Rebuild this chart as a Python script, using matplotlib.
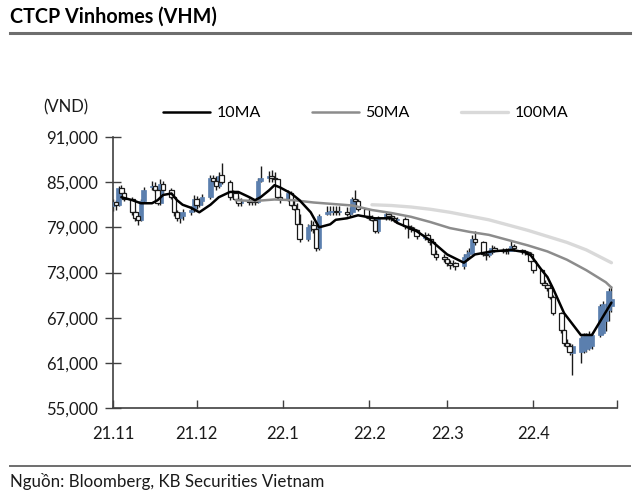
import matplotlib
matplotlib.use("Agg")
import matplotlib.pyplot as plt
import matplotlib.dates as mdates
from matplotlib.lines import Line2D
from matplotlib.ticker import FuncFormatter
import numpy as np
import pandas as pd

plt.rcParams['font.family'] = ['Lato', 'DejaVu Sans']

# ---------------- data ----------------
start, end = "2021-11-01", "2022-04-29"

opens = [
    # Nov 2021
    81800, 82300, 82000, 84200, 83500, 82700, 81000, 80500, 80000, 82500, 84300,
    84500, 84000, 82200, 84800, 84000, 83000, 81000, 80200, 80500, 81000, 81300,
    # Dec 2021
    82800, 82000, 82500, 83000, 85500, 85200, 84500, 86000, 85000, 83000, 83500, 82800,
    82200, 82500, 82300, 82500, 82300, 85200, 85500, 85800, 85600, 85400, 83000,
    # Jan 2022
    82700, 83500, 82000, 81500, 79500, 77500, 79000, 79300, 78800, 76200, 80800,
    81000, 81000, 81100, 81000, 81000, 80800, 81000, 82800, 82500, 81500,
    # Feb 2022
    80500, 80300, 80000, 78500, 80200, 80800, 80500, 80200, 80000, 80100,
    79200, 79000, 78800, 78600, 77600, 78000, 77400, 77000, 75500, 75000,
    # Mar 2022
    74800, 74300, 74000, 74200, 73800, 75000, 75500, 75600, 77500, 77000, 75500, 75300,
    75700, 76300, 76000, 75900, 75800, 75900, 76500, 76000, 75800, 75700, 75500,
    # Apr 2022
    74500, 73300, 71600, 71300, 71000, 69800, 67600, 65300, 63600, 63200, 62300,
    62500, 62600, 62800, 63000, 63200, 64700, 65000, 66500, 68000, 68500,
]
highs = [
    82800, 82600, 84500, 84600, 83800, 83000, 81300, 81000, 82700, 84300, 85200,
    85000, 84200, 85400, 85200, 84200, 83200, 81300, 81000, 81500, 81800, 83300,
    83200, 82900, 83400, 86000, 86000, 85800, 86300, 87600, 85300, 83900, 83800, 83100,
    82900, 82900, 82900, 82800, 85600, 87200, 86500, 86600, 86300, 85600, 83600,
    84000, 83800, 82800, 82200, 80800, 79500, 80000, 79800, 79000, 80800, 81800,
    81800, 81900, 81800, 81800, 81700, 81700, 83000, 84000, 82700, 81600,
    80800, 80600, 80200, 80500, 81200, 81000, 80800, 80500, 80400, 80400,
    79500, 79300, 79000, 78800, 78400, 78200, 77700, 77200, 76000, 75400,
    75000, 74600, 74600, 74400, 75500, 76000, 76300, 78000, 78500, 77200, 75700, 76000,
    76600, 76500, 76300, 76200, 76300, 77200, 76800, 76100, 76000, 75900, 75700,
    74700, 73500, 72000, 71600, 71200, 70000, 67800, 65500, 64200, 63600, 63500,
    64500, 65000, 65000, 65200, 65000, 68800, 69200, 69000, 71000, 71200,
]
lows = [
    81200, 81300, 81800, 83200, 82500, 80600, 79800, 79300, 79800, 82200, 84000,
    83700, 82000, 82000, 83600, 82700, 80500, 79800, 79600, 80000, 80600, 81000,
    81500, 81700, 82000, 82800, 84800, 84000, 84200, 84800, 82600, 82700, 82300, 81800,
    81900, 82000, 82000, 82000, 82200, 85000, 85000, 85000, 85000, 82800, 82200,
    82500, 81800, 81300, 79300, 77000, 77200, 78500, 78300, 75800, 76000, 80600,
    80700, 80700, 80700, 80700, 80500, 80500, 80800, 82000, 81200, 80300,
    80000, 79800, 78200, 78300, 80000, 80000, 79900, 79700, 79700, 78800,
    77600, 78400, 78200, 77400, 77300, 77100, 76700, 75300, 74700, 74400,
    73900, 73500, 73700, 73300, 73500, 74700, 75200, 75400, 76700, 75200, 74600, 75000,
    75500, 75700, 75600, 75500, 75500, 75800, 75900, 75400, 75300, 75200, 74200,
    73000, 71300, 71000, 70600, 69500, 67300, 65000, 63300, 62800, 62000, 59400,
    61000, 62300, 62500, 62700, 62900, 64400, 64800, 65200, 66500, 67800,
]
closes = [
    82400, 82000, 84200, 83500, 82800, 81000, 80300, 80000, 82500, 84000, 84500,
    84000, 82200, 84800, 84000, 83000, 81000, 80200, 80500, 81000, 81300, 82800,
    82000, 82500, 83000, 85500, 85200, 84500, 85800, 85000, 83000, 83500, 82800, 82200,
    82500, 82300, 82500, 82400, 85200, 85500, 85800, 85600, 85400, 83000, 82700,
    83500, 82000, 81500, 79500, 77500, 79000, 79300, 78800, 76200, 80500, 81000,
    81000, 81100, 81000, 81000, 80800, 81000, 82800, 82500, 81500, 80500,
    80300, 80000, 78500, 80200, 80800, 80500, 80200, 80000, 80100, 79200,
    79000, 78800, 78600, 77800, 78000, 77400, 77000, 75500, 75000, 74800,
    74300, 74000, 74200, 73800, 75000, 75500, 75700, 77500, 77000, 75500, 75300, 75700,
    76300, 76000, 75900, 75800, 75900, 76500, 76200, 75800, 75700, 75500, 74500,
    73300, 71600, 71300, 71000, 69800, 67600, 65300, 63600, 63200, 62500, 63300,
    64300, 64600, 64800, 64800, 64700, 68500, 68800, 68000, 70500, 69500,
]

ma10_dates = ["2021-11-04", "2021-11-08", "2021-11-11", "2021-11-15", "2021-11-17",
              "2021-11-19", "2021-11-22", "2021-11-24", "2021-11-26", "2021-11-29",
              "2021-12-02", "2021-12-06", "2021-12-09", "2021-12-13", "2021-12-16",
              "2021-12-20", "2021-12-22", "2021-12-24", "2021-12-27", "2021-12-29",
              "2021-12-31", "2022-01-04", "2022-01-07", "2022-01-11", "2022-01-14",
              "2022-01-18", "2022-01-20", "2022-01-24", "2022-01-28", "2022-02-03",
              "2022-02-09", "2022-02-11", "2022-02-18", "2022-02-24", "2022-03-01",
              "2022-03-07", "2022-03-11", "2022-03-17", "2022-03-24", "2022-03-29",
              "2022-03-31", "2022-04-04", "2022-04-06", "2022-04-08", "2022-04-12",
              "2022-04-18", "2022-04-22", "2022-04-29"]
ma10_vals = [83000, 82600, 82200, 82200, 82600,
             83300, 83500, 82600, 82000, 81600,
             81000, 82000, 83000, 83700, 83700,
             83000, 82600, 83000, 83900, 84600,
             84300, 83500, 82600, 81000, 79000,
             79400, 80000, 80200, 80600, 80200,
             80200, 79600, 78500, 77000, 75400,
             74300, 75400, 75800, 76000, 75700,
             75300, 73300, 72400, 70900, 67600,
             64700, 64700, 69000]

ma50_dates = ["2021-12-15", "2021-12-22", "2021-12-29", "2022-01-05", "2022-01-12",
              "2022-01-19", "2022-01-26", "2022-02-02", "2022-02-09", "2022-02-16",
              "2022-02-23", "2022-03-02", "2022-03-09", "2022-03-16", "2022-03-23",
              "2022-03-30", "2022-04-06", "2022-04-13", "2022-04-20", "2022-04-27",
              "2022-04-29"]
ma50_vals = [82600, 82500, 82700, 82600, 82300,
             82100, 81900, 81300, 80900, 80400,
             79700, 78900, 78400, 78000, 77300,
             76600, 75800, 74700, 73300, 71700,
             71000]

ma100_dates = ["2022-02-02", "2022-02-09", "2022-02-16", "2022-02-23", "2022-03-02",
               "2022-03-09", "2022-03-16", "2022-03-23", "2022-03-30", "2022-04-06",
               "2022-04-13", "2022-04-20", "2022-04-29"]
ma100_vals = [82000, 81900, 81700, 81400, 81000,
              80500, 80000, 79300, 78600, 77800,
              77000, 76000, 74300]

month_ticks = ["2021-11-01", "2021-12-01", "2022-01-01", "2022-02-01",
               "2022-03-01", "2022-04-01", "2022-05-01"]
month_labels = ["21.11", "21.12", "22.1", "22.2", "22.3", "22.4", ""]
y_ticks = [55000, 61000, 67000, 73000, 79000, 85000, 91000]

# ---------------- figure ----------------
fig = plt.figure(figsize=(6.40, 4.99), dpi=100)
ax = fig.add_axes([113 / 640, 1 - 408 / 499, 504 / 640, 271 / 499])

dates = pd.bdate_range(start, end)
x = mdates.date2num(dates.to_pydatetime())
o = np.array(opens, float)
h = np.array(highs, float)
l = np.array(lows, float)
c = np.array(closes, float)

up = c >= o
blue = "#5b7fae"
ax.vlines(x, l, h, color="#1a1a1a", lw=1.0, zorder=2)
body_bottom = np.minimum(o, c)
body_h = np.maximum(np.abs(c - o), 150)
w = 1.6
ax.bar(x[up], body_h[up], bottom=body_bottom[up], width=w, color=blue,
       edgecolor=blue, lw=0.5, zorder=3)
ax.bar(x[~up], body_h[~up], bottom=body_bottom[~up], width=w, color="white",
       edgecolor="#1a1a1a", lw=0.9, zorder=3)

def dn(lst):
    return mdates.date2num(pd.to_datetime(lst).to_pydatetime())

l100, = ax.plot(dn(ma100_dates), ma100_vals, color="#d9d9d9", lw=2.4, zorder=4,
                solid_capstyle="round", label="100MA")
l50, = ax.plot(dn(ma50_dates), ma50_vals, color="#8c8c8c", lw=1.8, zorder=5,
               solid_capstyle="round", label="50MA")
l10, = ax.plot(dn(ma10_dates), ma10_vals, color="#000000", lw=1.8, zorder=6,
               solid_capstyle="round", label="10MA")

ax.set_xlim(mdates.date2num(pd.Timestamp("2021-11-01")),
            mdates.date2num(pd.Timestamp("2022-05-01")))
ax.set_ylim(55000, 91000)
ax.set_xticks(dn(month_ticks))
ax.set_xticklabels(month_labels, fontsize=12)
ax.set_yticks(y_ticks)
ax.yaxis.set_major_formatter(FuncFormatter(lambda v, p: f"{int(v):,}"))
ax.tick_params(axis="y", direction="inout", length=12, width=1, color="#404040",
               labelsize=12, pad=5, labelcolor="#1a1a1a")
ax.tick_params(axis="x", direction="in", length=6, width=1, color="#404040",
               pad=13, labelcolor="#1a1a1a")
for s in ["top", "right"]:
    ax.spines[s].set_visible(False)
for s in ["left", "bottom"]:
    ax.spines[s].set_color("#404040")
    ax.spines[s].set_linewidth(1.2)

leg = ax.legend(handles=[l10, l50, l100], ncol=3, frameon=False, fontsize=11.5,
                loc="center left", bbox_to_anchor=((163 - 113) / 504, (408 - 113) / 271),
                borderaxespad=0, borderpad=0, handlelength=2.95, handletextpad=0.4,
                columnspacing=3.2)

fig.text(66 / 640, 1 - 107 / 499, "(VND)", ha="center", va="center", fontsize=12,
         color="#1a1a1a")

fig.text(10 / 640, 1 - 17 / 499, "CTCP Vinhomes (VHM)", ha="left", va="center",
         fontsize=14.2, fontweight="bold", color="#000000")
fig.add_artist(Line2D([10 / 640, 630 / 640], [1 - 33 / 499, 1 - 33 / 499],
                      color="#6e6e6e", lw=2.2, transform=fig.transFigure))
fig.add_artist(Line2D([10 / 640, 630 / 640], [1 - 466 / 499, 1 - 466 / 499],
                      color="#6e6e6e", lw=1.4, transform=fig.transFigure))
fig.text(10 / 640, 1 - 481 / 499, "Nguồn: Bloomberg, KB Securities Vietnam",
         ha="left", va="center", fontsize=12.2, color="#1a1a1a")

fig.savefig("out.png", dpi=100)
